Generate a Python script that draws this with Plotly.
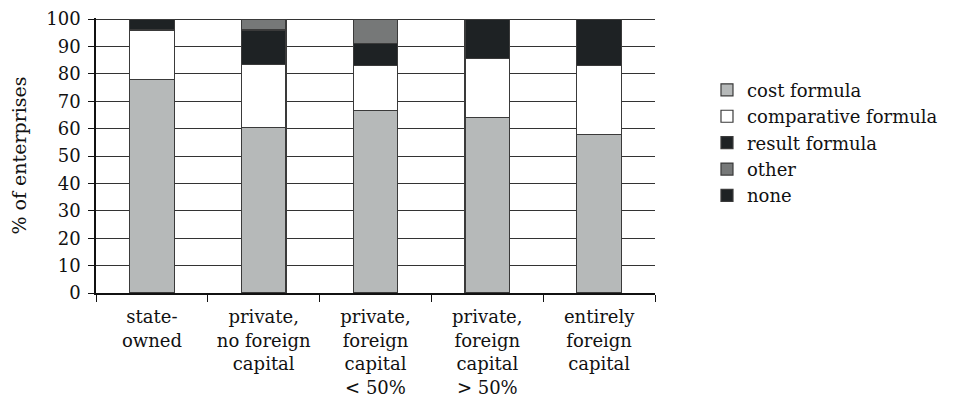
import plotly.graph_objects as go

categories = ["state-<br>owned", "private,<br>no foreign<br>capital", "private,<br>foreign<br>capital<br>&lt; 50%",
              "private,<br>foreign<br>capital<br>&gt; 50%", "entirely<br>foreign<br>capital"]
cost = [78, 60.5, 66.5, 64, 58]
comparative = [18, 23, 16.5, 21.5, 25]
result = [4, 12.5, 8, 14.5, 17]
other = [0, 4, 9, 0, 0]
none = [0, 0, 0, 0, 0]
y_ticks = [0, 10, 20, 30, 40, 50, 60, 70, 80, 90, 100]

series = [
    ("cost formula", cost, "#b6b9b9"),
    ("comparative formula", comparative, "#ffffff"),
    ("result formula", result, "#1e2224"),
    ("other", other, "#767878"),
    ("none", none, "#1e2224"),
]

font = "DejaVu Serif, serif"
fig = go.Figure()
for name, vals, col in series:
    fig.add_trace(go.Bar(x=categories, y=vals, name=name,
                         marker=dict(color=col, line=dict(color="#3a3a3a", width=1.2))))

fig.update_layout(
    barmode="stack", bargap=0.6,
    width=956, height=405,
    margin=dict(l=88, r=309, t=10, b=120, autoexpand=False),
    plot_bgcolor="white", paper_bgcolor="white",
    font=dict(family=font, size=19, color="#111"),
    legend=dict(traceorder="normal", x=1.093, y=0.805, xanchor="left", yanchor="top",
                font=dict(size=18), tracegroupgap=0, itemwidth=30),
    showlegend=True,
)
fig.update_xaxes(type="category", tickson="boundaries", ticks="outside", ticklen=7,
                 tickcolor="#111", showline=True, linecolor="#111", linewidth=1.5,
                 showgrid=False, tickfont=dict(size=18), ticklabelstandoff=7, automargin=False)
fig.update_yaxes(range=[0, 100.4], tickmode="array", tickvals=y_ticks, ticks="outside", ticklen=6,
                 tickcolor="#111", showline=True, linecolor="#111", linewidth=1.5,
                 showgrid=True, gridcolor="#333", gridwidth=1.2, ticklabeloverflow="allow",
                 ticklabelstandoff=4, automargin=False,
                 title=dict(text="% of enterprises", font=dict(size=19), standoff=19),
                 tickfont=dict(size=18), zeroline=False)
fig.write_html("out.html")
